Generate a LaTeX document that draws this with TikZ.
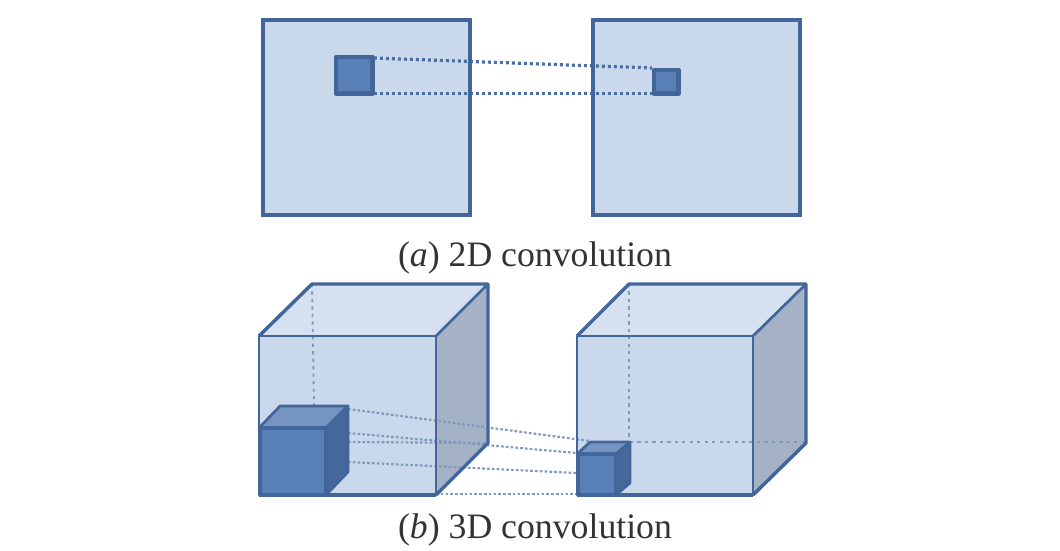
\documentclass[tikz,border=0pt]{standalone}
\usepackage{fontspec}
\setmainfont{Liberation Serif}
\definecolor{edgeb}{HTML}{42659A}
\definecolor{faceb}{HTML}{CAD8EB}
\definecolor{topb}{HTML}{D5E1F1}
\definecolor{sideb}{HTML}{A5B1C5}
\definecolor{smallf}{HTML}{5A80B8}
\definecolor{smallt}{HTML}{7694C0}
\definecolor{smalls}{HTML}{44689C}
\definecolor{dotb}{HTML}{4A6FA5}
\definecolor{faintb}{HTML}{7F99BF}
\tikzset{
  edge2d/.style={draw=edgeb,line width=3pt,line join=miter},
  edgesm/.style={draw=edgeb,line width=3.4pt,line join=round},
  edge3d/.style={draw=edgeb,line width=2pt,line join=round},
  edgeback/.style={draw=edgeb,line width=2.6pt,line join=round},
  dotline/.style={draw=dotb,line width=2.4pt,dash pattern=on 2.2pt off 2.3pt},
  fadeline/.style={draw=faintb,line width=1.6pt,dash pattern=on 2pt off 1.6pt},
  hidden/.style={draw=faintb,line width=1.4pt,dash pattern=on 2.4pt off 3.2pt},
  capt/.style={font=\fontsize{26.8}{32}\selectfont,text=black!80,inner sep=0pt,anchor=base}
}
\begin{document}
\begin{tikzpicture}[x=0.75pt,y=-0.75pt]
\useasboundingbox (0,0) rectangle (1060,550);
% 2D
\fill[faceb] (263,20) rectangle (470,215);
\fill[faceb] (593,20) rectangle (800,215);
\coordinate (a1) at (374,58); \coordinate (a2) at (652,68);
\coordinate (b1) at (374,93.5); \coordinate (b2) at (652,93.5);
\draw[dotline] (a1) -- (a2);
\draw[dotline] (b1) -- (b2);
\draw[edge2d] (263,20) rectangle (470,215);
\draw[edge2d] (593,20) rectangle (800,215);
\draw[edgesm,fill=smallf] (336,57) rectangle (372.5,93.5);
\draw[edgesm,fill=smallf] (654,70) rectangle (678.5,93.5);
\node[capt] (cap1) at (535,266) {(\textit{a}) 2D convolution};
% left cube
\fill[faceb] (259,336) rectangle (436,495);
\fill[topb] (259,336) -- (312,284) -- (488,284) -- (436,336) -- cycle;
\fill[sideb] (436,336) -- (488,284) -- (488,443) -- (436,495) -- cycle;
\draw[hidden] (312,284) -- (314,406);
% right cube
\fill[faceb] (577,336) rectangle (753,495);
\fill[topb] (577,336) -- (629,284) -- (806,284) -- (753,336) -- cycle;
\fill[sideb] (753,336) -- (806,284) -- (806,443) -- (753,495) -- cycle;
\draw[hidden] (629,284) -- (629,442);
\draw[hidden] (630,442) -- (806,442);
% dotted rays
\coordinate (r1) at (348,409); \coordinate (s1) at (590,441);
\coordinate (r2) at (348,433); \coordinate (s2) at (577,453);
\coordinate (r3) at (348,462); \coordinate (s3) at (577,473);
\coordinate (r4) at (436,494); \coordinate (s4) at (577,494);
\coordinate (r5) at (348,442); \coordinate (s5) at (488,443);
\draw[fadeline] (r1) -- (s1);
\draw[fadeline] (r2) -- (s2);
\draw[fadeline] (r3) -- (s3);
\draw[fadeline] (r4) -- (s4);
\draw[fadeline] (r5) -- (s5);
% cube edges
\draw[edge3d] (259,336) rectangle (436,495);
\draw[edgeback] (259,336) -- (312,284) -- (488,284) -- (488,443) -- (436,495);
\draw[edge3d] (436,336) -- (488,284);
\draw[edgeback] (259,495) -- (436,495);
\draw[edge3d] (577,336) rectangle (753,495);
\draw[edgeback] (577,336) -- (629,284) -- (806,284) -- (806,443) -- (753,495);
\draw[edge3d] (753,336) -- (806,284);
\draw[edgeback] (577,495) -- (753,495);
% left small cube
\draw[edge3d,fill=smallt] (259,428) -- (280,406) -- (348,406) -- (326,428) -- cycle;
\draw[edge3d,fill=smalls] (326,428) -- (348,406) -- (348,472) -- (326,495) -- cycle;
\draw[edgeback,fill=smallf] (260,428) rectangle (326,495);
% right small cube
\draw[edge3d,fill=smallt] (577,454) -- (590,442) -- (630,442) -- (616,454) -- cycle;
\draw[edge3d,fill=smalls] (616,454) -- (630,442) -- (630,483) -- (616,495) -- cycle;
\draw[edgeback,fill=smallf] (578,454) rectangle (616,495);
\node[capt] (cap2) at (535,538) {(\textit{b}) 3D convolution};
\end{tikzpicture}
\end{document}
